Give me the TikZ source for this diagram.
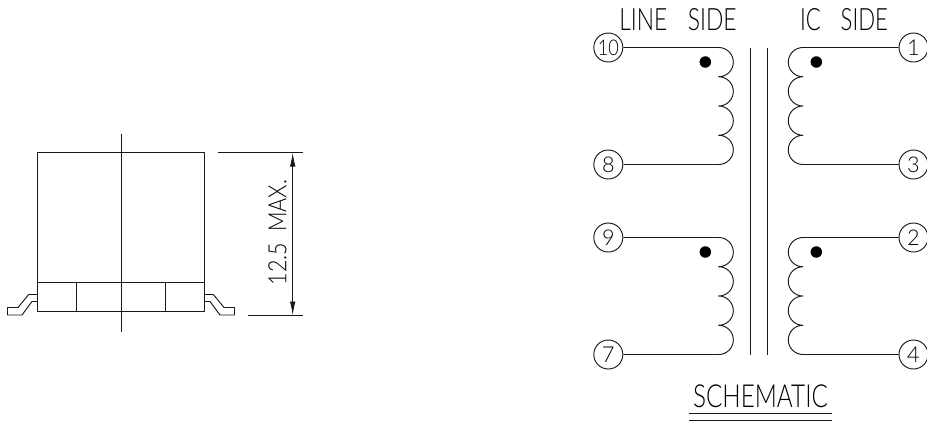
\documentclass[tikz,border=0pt]{standalone}
\usepackage{graphicx}
\usepackage{fontspec}
\setmainfont{Lato Light}
\usetikzlibrary{arrows.meta}
\tikzset{
  ln/.style={line width=0.95pt,black!90,line join=round},
  pin/.style={circle,draw,line width=0.95pt,black!90,minimum size=29pt,inner sep=0pt,text=black},
  lbl/.style={inner sep=0pt,text=black},
  wdot/.style={circle,fill=black,minimum size=11.5pt,inner sep=0pt},
  dim/.style={ln,{Latex[length=14pt,width=5.5pt]}-{Latex[length=14pt,width=5.5pt]}}
}
\newcommand{\pnum}[1]{\resizebox{!}{15.5pt}{#1}}
\begin{document}
\begin{tikzpicture}[x=1pt,y=1pt,yscale=-1]
\useasboundingbox (0,0) rectangle (927,421);
% package outline
\draw[ln] (37.5,152.5) rectangle (204.5,311.5);
\draw[ln] (37.5,282.5) -- (204.5,282.5);
\draw[ln] (76.5,282.5) -- (76.5,311.5);
\draw[ln] (165.5,282.5) -- (165.5,311.5);
\draw[ln] (121,134) -- (121,331.7);
% leads
\draw[ln] (37.5,294.5) -- (28.7,294.5) -- (18,307.5) -- (7.5,307.5) -- (7.5,315) -- (22,315) -- (32,301.5) -- (37.5,301.5);
\draw[ln] (204.5,294.5) -- (213.3,294.5) -- (224,307.5) -- (234.5,307.5) -- (234.5,315) -- (220,315) -- (210,301.5) -- (204.5,301.5);
\draw[ln,line width=1.5pt] (37.5,294.5) -- (37.5,301.5);
\draw[ln,line width=1.5pt] (204.5,294.5) -- (204.5,301.5);
% dimension
\coordinate (dimT) at (292.7,152.5);
\coordinate (dimB) at (292.7,315.5);
\draw[ln] (217.7,152.5) -- (303.3,152.5);
\draw[ln] (247.7,315.5) -- (303.3,315.5);
\draw[dim] (dimT) -- (dimB);
\node[lbl,rotate=90] (dimtxt) at (277.5,232.5) {\resizebox{105pt}{18pt}{12.5\hspace{0.5em}MAX.}};
% titles
\node[lbl] (lineside) at (678,19.2) {\resizebox{117.4pt}{22pt}{LINE\hspace{0.9em}SIDE}};
\node[lbl] (icside) at (844,19.2) {\resizebox{88pt}{22pt}{IC\hspace{0.9em}SIDE}};
\node[lbl] (schem) at (760.5,396.3) {\resizebox{135pt}{22.7pt}{SCHEMATIC}};
\coordinate (ulA) at (689.3,413.5);
\coordinate (ulB) at (832,413.5);
\coordinate (ulC) at (689.3,420.5);
\coordinate (ulD) at (832,420.5);
\draw[ln] (ulA) -- (ulB);
\draw[ln] (ulC) -- (ulD);
% pins
\node[pin] (p10) at (608.3,47.5) {\resizebox{21pt}{15.5pt}{10}};
\node[pin] (p8) at (608.3,164.5) {\pnum{8}};
\node[pin] (p9) at (608.3,237.5) {\pnum{9}};
\node[pin] (p7) at (608.3,354.5) {\pnum{7}};
\node[pin] (p1) at (913.5,47.5) {\pnum{1}};
\node[pin] (p3) at (913.5,164.5) {\pnum{3}};
\node[pin] (p2) at (913.5,237.5) {\pnum{2}};
\node[pin] (p4) at (913.5,354.5) {\pnum{4}};
% coils
\draw[ln] (p10.east) -- (718.7,47.5)
  arc[start angle=-90,end angle=90,radius=14.625] arc[start angle=-90,end angle=90,radius=14.625]
  arc[start angle=-90,end angle=90,radius=14.625] arc[start angle=-90,end angle=90,radius=14.625] -- (p8.east);
\draw[ln] (p9.east) -- (718.7,237.5)
  arc[start angle=-90,end angle=90,radius=14.625] arc[start angle=-90,end angle=90,radius=14.625]
  arc[start angle=-90,end angle=90,radius=14.625] arc[start angle=-90,end angle=90,radius=14.625] -- (p7.east);
\draw[ln] (p1.west) -- (802.9,47.5)
  arc[start angle=270,end angle=90,radius=14.625] arc[start angle=270,end angle=90,radius=14.625]
  arc[start angle=270,end angle=90,radius=14.625] arc[start angle=270,end angle=90,radius=14.625] -- (p3.west);
\draw[ln] (p2.west) -- (802.9,237.5)
  arc[start angle=270,end angle=90,radius=14.625] arc[start angle=270,end angle=90,radius=14.625]
  arc[start angle=270,end angle=90,radius=14.625] arc[start angle=270,end angle=90,radius=14.625] -- (p4.west);
% dots
\node[wdot] (d1) at (705.3,62) {};
\node[wdot] (d2) at (816.3,62) {};
\node[wdot] (d3) at (705.3,252) {};
\node[wdot] (d4) at (816.3,252) {};
% core
\coordinate (c1t) at (750,47.5);
\coordinate (c1b) at (750,354.5);
\coordinate (c2t) at (767.5,47.5);
\coordinate (c2b) at (767.5,354.5);
\draw[ln] (c1t) -- (c1b);
\draw[ln] (c2t) -- (c2b);
\end{tikzpicture}
\end{document}
